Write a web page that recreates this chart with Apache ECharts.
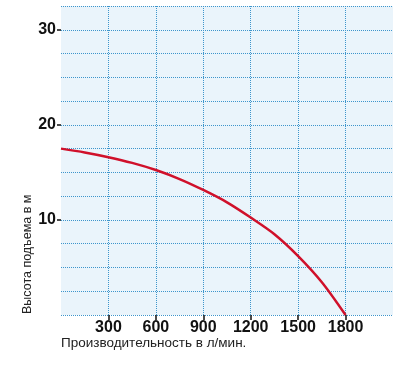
<!DOCTYPE html>
<html>
<head>
<meta charset="utf-8">
<script src="https://cdn.jsdelivr.net/npm/echarts@6/dist/echarts.min.js"></script>
<style>
  html, body { margin: 0; padding: 0; background: #fff; }
  #main { width: 412px; height: 376px; }
</style>
</head>
<body>
<div id="main"></div>
<script>
// подача, л/мин
const flow = [0, 150, 300, 450, 600, 750, 900, 1050, 1200, 1350, 1500, 1650, 1800];
// высота подъема, м
const head = [17.5, 17.1, 16.6, 16.0, 15.25, 14.3, 13.15, 11.85, 10.25, 8.5, 6.2, 3.45, 0];
const xTicks = [300, 600, 900, 1200, 1500, 1800];
const yTicks = [10, 20, 30];

const labelFont = '"Liberation Sans", Arial, sans-serif';
const gridLine = { show: true, lineStyle: { type: 'dotted', color: '#3d95cc', width: 1 } };
const tickLabel = { fontFamily: labelFont, fontSize: 16, fontWeight: 'bold', color: '#111' };

var chart = echarts.init(document.getElementById('main'));
var option = {
    animation: false,
    grid: {
        left: 61, top: 6, right: 19, bottom: 61,
        show: true, backgroundColor: '#eaf4fb', borderWidth: 0
    },
    xAxis: {
        type: 'value', min: 0, max: 2100, interval: 300,
        axisLine: { show: false },
        axisTick: { show: true, length: 5, customValues: xTicks, lineStyle: { color: '#111', width: 1.5 } },
        axisLabel: Object.assign({ customValues: xTicks, margin: 5, formatter: v => String(v) }, tickLabel),
        splitLine: gridLine
    },
    yAxis: [
        {
            // сетка через 2,5 м
            type: 'value', min: 0, max: 32.5, interval: 2.5,
            axisLine: { show: false }, axisTick: { show: false }, axisLabel: { show: false },
            splitLine: gridLine
        },
        {
            type: 'value', min: 0, max: 32.5, interval: 2.5, position: 'left',
            axisLine: { show: false },
            axisTick: { show: true, length: 4, customValues: yTicks, lineStyle: { color: '#111', width: 1.5 } },
            axisLabel: Object.assign({ customValues: yTicks, margin: 5 }, tickLabel),
            splitLine: { show: false }
        }
    ],
    graphic: [
        {
            type: 'text', x: 61, y: 343,
            style: {
                text: 'Производительность в л/мин.',
                font: '13.5px ' + labelFont, fill: '#222',
                textAlign: 'left', textVerticalAlign: 'middle'
            }
        },
        {
            type: 'text', x: 28, y: 314, rotation: Math.PI / 2,
            style: {
                text: 'Высота подъема в м',
                font: '12.5px ' + labelFont, fill: '#222',
                textAlign: 'left', textVerticalAlign: 'middle'
            }
        }
    ],
    series: [{
        type: 'line',
        data: flow.map((f, i) => [f, head[i]]),
        smooth: 0.3,
        showSymbol: false,
        lineStyle: { color: '#d0102a', width: 2.5 }
    }]
};
chart.setOption(option);
</script>
</body>
</html>
